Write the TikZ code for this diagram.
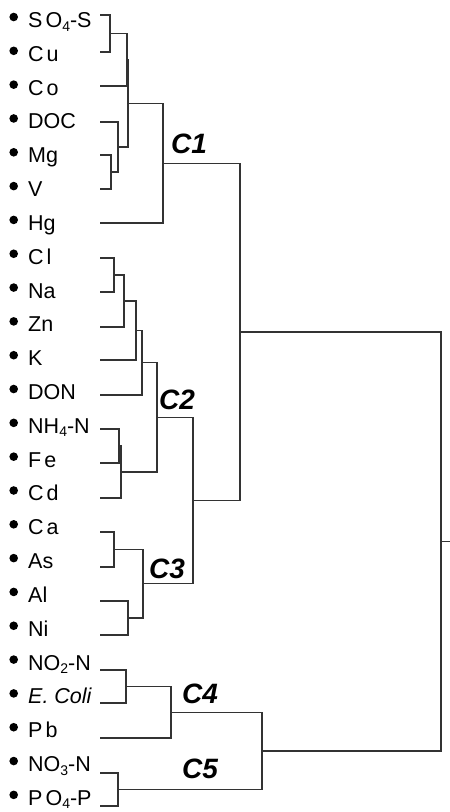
\documentclass[tikz,border=0pt]{standalone}
\usepackage{fontspec}
\setmainfont{Liberation Sans}
\newcommand{\mysub}[1]{\raisebox{-3.5pt}{\fontsize{14}{14}\selectfont #1}}
\tikzset{
  leaf/.style={anchor=base west, inner sep=0pt, font=\fontsize{21.5}{21.5}\selectfont},
  dotmark/.style={circle, fill=black, inner sep=0pt, minimum size=8.6pt},
  clab/.style={anchor=base west, inner sep=0pt, font=\fontsize{28}{28}\selectfont\bfseries\itshape},
  tree/.style={line width=1.2pt, draw=black!80},
}
\begin{document}
\begin{tikzpicture}[x=1pt,y=-1pt]
\useasboundingbox (0,0) rectangle (450,812);
% leaves
\foreach \k/\nm/\txt/\ly in {
  0/so4/{S\kern3pt O\mysub{4}-S}/15,
  1/cu/{C\kern3pt u}/52,
  2/co/{C\kern3pt o}/86,
  3/doc/{DOC}/122,
  4/mg/{Mg}/155,
  5/v/{V}/189,
  6/hg/{Hg}/223,
  7/cl/{C\kern3pt l}/258,
  8/na/{Na}/292,
  9/zn/{Zn}/327,
  10/k/{K}/360,
  11/don/{DON}/395,
  12/nh4/{NH\mysub{4}-N}/429,
  13/fe/{F\kern3pt e}/463,
  14/cd/{C\kern3pt d}/498,
  15/ca/{C\kern3pt a}/532,
  16/as/{As}/567,
  17/al/{Al}/601,
  18/ni/{Ni}/635,
  19/no2/{NO\mysub{2}-N}/670,
  20/ecoli/{\textit{E. Coli}}/703,
  21/pb/{P\kern3pt b}/738,
  22/no3/{NO\mysub{3}-N}/773,
  23/po4/{P\kern3pt O\mysub{4}-P}/806}{
  \node[leaf] (t\nm) at (28,{27.5+33.82*\k}) {\txt};
  \node[dotmark] (d\nm) at (13.7,{17+33.82*\k}) {};
  \coordinate (\nm) at (100,\ly);
}
% merge points
\coordinate (n1) at (110,33.5);
\coordinate (n2) at (127,59.75);
\coordinate (n3) at (111,172);
\coordinate (n4) at (118,147);
\coordinate (n5) at (128,103.4);
\coordinate (c1) at (163,163.2);
\coordinate (m1) at (114,275);
\coordinate (m2) at (124,301);
\coordinate (m3) at (136,330.5);
\coordinate (m4) at (142,362.75);
\coordinate (m5) at (119,446);
\coordinate (m6) at (121,472);
\coordinate (m7) at (157,417.4);
\coordinate (k1) at (114,549.5);
\coordinate (k2) at (128,618);
\coordinate (k3) at (143,583.75);
\coordinate (c2) at (193,500.6);
\coordinate (tt) at (240,331.9);
\coordinate (p1) at (126,686.5);
\coordinate (c4) at (171,712.25);
\coordinate (c5) at (118,789.5);
\coordinate (q) at (262,750.9);
\coordinate (root) at (441,541.4);
\coordinate (rootend) at (450,541.4);
% links
\draw[tree] (so4) -| (n1) |- (cu);
\draw[tree] (n1) -| (n2) |- (co);
\draw[tree] (mg) -| (n3) |- (v);
\draw[tree] (doc) -| (n4) |- (n3);
\draw[tree] (n2) -| (n5) |- (n4);
\draw[tree] (n5) -| (c1) |- (hg);
\draw[tree] (cl) -| (m1) |- (na);
\draw[tree] (m1) -| (m2) |- (zn);
\draw[tree] (m2) -| (m3) |- (k);
\draw[tree] (m3) -| (m4) |- (don);
\draw[tree] (nh4) -| (m5) |- (fe);
\draw[tree] (m5) -| (m6) |- (cd);
\draw[tree] (m4) -| (m7) |- (m6);
\draw[tree] (ca) -| (k1) |- (as);
\draw[tree] (al) -| (k2) |- (ni);
\draw[tree] (k1) -| (k3) |- (k2);
\draw[tree] (m7) -| (c2) |- (k3);
\draw[tree] (c1) -| (tt) |- (c2);
\draw[tree] (no2) -| (p1) |- (ecoli);
\draw[tree] (p1) -| (c4) |- (pb);
\draw[tree] (no3) -| (c5) |- (po4);
\draw[tree] (c4) -| (q) |- (c5);
\draw[tree] (tt) -| (root) |- (q);
\draw[tree] (root) -- (rootend);
% cluster labels
\node[clab] (lc1) at (171,153) {C1};
\node[clab] (lc2) at (159,409) {C2};
\node[clab] (lc3) at (149,578) {C3};
\node[clab] (lc4) at (182,703) {C4};
\node[clab] (lc5) at (182,778) {C5};
\end{tikzpicture}
\end{document}
